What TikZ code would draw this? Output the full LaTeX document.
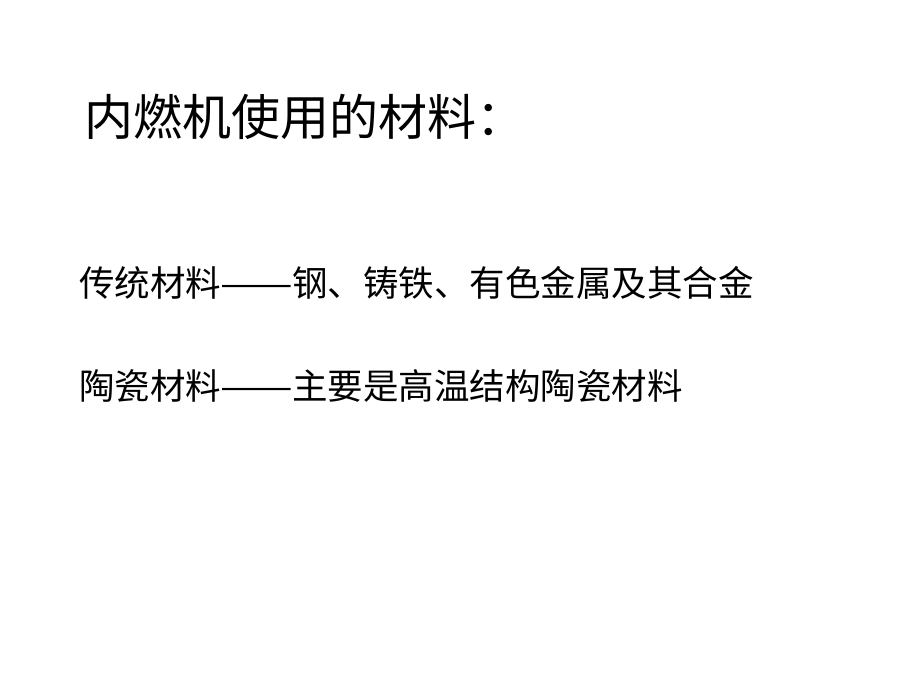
\documentclass[tikz,border=0pt]{standalone}
\usepackage{graphicx}
\usepackage{fontspec}
\newfontfamily\cjk{Noto Sans CJK SC}
\newcommand{\longdash}{\makebox[2em]{\scalebox{1.22}[1]{——}}}
\begin{document}
\begin{tikzpicture}[x=1pt,y=1pt,
  title/.style={anchor=west,inner sep=0pt,font=\cjk\fontsize{49pt}{49pt}\selectfont},
  body/.style={anchor=west,inner sep=0pt,font=\cjk\fontsize{35.5pt}{35.5pt}\selectfont}]
\useasboundingbox[fill=white] (0,0) rectangle (920,-690);
\node[title] (t) at (84,-117) {内燃机使用的材料：};
\node[body] (a) at (79,-283) {传统材料\longdash 钢、铸铁、有色金属及其合金};
\node[body] (b) at (79,-386) {陶瓷材料\longdash 主要是高温结构陶瓷材料};
\end{tikzpicture}
\end{document}
